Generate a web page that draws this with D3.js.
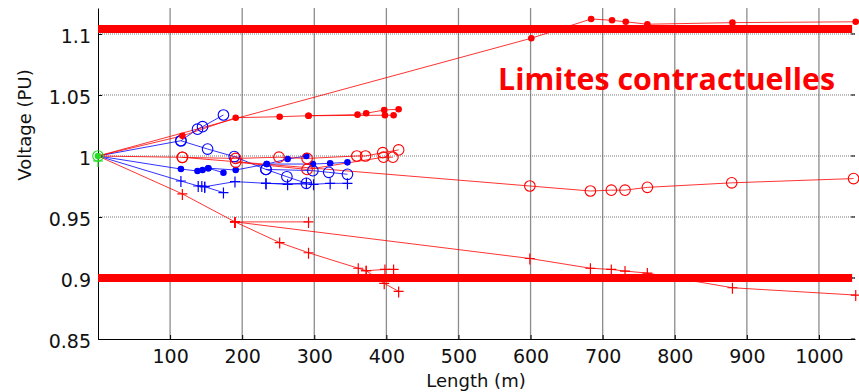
<!DOCTYPE html>
<html>
<head>
<meta charset="utf-8">
<script src="https://cdn.jsdelivr.net/npm/d3@7"></script>
<style>
  body { margin: 0; background: #fff; }
  svg { display: block; }
</style>
</head>
<body>
<svg id="chart" width="859" height="392"></svg>
<script>
// tick values / labels
const xTicks = [100, 200, 300, 400, 500, 600, 700, 800, 900, 1000];
const yTicks = [0.85, 0.9, 0.95, 1, 1.05, 1.1];
const yTickLabels = ["0.85", "0.9", "0.95", "1", "1.05", "1.1"];

// contractual limits (PU)
const limits = [0.9, 1.104];
const limitEnd = 1046;

// red feeder, phase with filled dots  [length m, voltage PU]
const redDotA = [[0, 1], [117, 1.0165], [191, 1.0314], [252, 1.0322], [292, 1.033], [360, 1.0339], [372, 1.035], [397, 1.0377], [417, 1.0383]];
const redDotB = [[292, 1.033], [398, 1.0334], [410, 1.0334]];
const redDotFar = [[0, 1], [601, 1.0965], [684, 1.1123], [713, 1.1112], [732, 1.110], [762, 1.108], [880, 1.1093], [1051, 1.110]];

// red feeder, phase with circles
const redCircA = [[0, 1], [117, 0.9989], [191, 0.998], [251, 0.999], [290, 0.998], [359, 1.0], [371, 1.0], [395, 1.0027], [417, 1.005]];
const redCircB = [[191, 0.995], [290, 0.989], [396, 0.999], [409, 0.999]];
const redCircFar = [[117, 0.9989], [599, 0.9754], [683, 0.9713], [712, 0.972], [731, 0.972], [762, 0.9743], [879, 0.978], [1048, 0.9815]];

// red feeder, phase with plus
const redPlusA = [[0, 1], [117, 0.9689], [190, 0.946], [252, 0.929], [292, 0.9207], [361, 0.908], [372, 0.906], [398, 0.907], [410, 0.907]];
const redPlusB = [[372, 0.906], [397, 0.8956], [417, 0.889]];
const redPlusC = [[190, 0.946], [292, 0.946]];
const redPlusFar = [[190, 0.946], [599, 0.916], [683, 0.908], [712, 0.907], [731, 0.9057], [762, 0.904], [880, 0.892], [1051, 0.886]];

// blue feeder
const bluCircA = [[0, 1], [115, 1.0125], [138, 1.022], [145, 1.024], [174, 1.0336]];
const bluCircB = [[115, 1.0125], [152, 1.0057], [189, 0.9995], [233, 0.989], [262, 0.983], [289, 0.9776]];
const bluCircC = [[233, 0.989], [298, 0.988], [320, 0.9866], [346, 0.985]];

const bluDotA = [[0, 1], [115, 0.9893], [138, 0.9877], [145, 0.9885], [153, 0.99], [174, 0.9863]];
const bluDotB = [[153, 0.99], [191, 0.9885], [234, 0.9934], [263, 0.9975], [289, 1.0]];
const bluDotC = [[234, 0.9934], [298, 0.9934], [322, 0.994], [346, 0.9948]];

const bluPlusA = [[0, 1], [115, 0.9795], [139, 0.9754], [144, 0.9754], [148, 0.9748], [174, 0.970]];
const bluPlusB = [[148, 0.9748], [190, 0.979], [233, 0.9776], [263, 0.9768], [289, 0.978]];
const bluPlusC = [[233, 0.9776], [299, 0.9768], [322, 0.9776], [346, 0.9776]];

const RED = "#ff0000", BLUE = "#0000ff", GREEN = "#22dd22";

const series = [
  { pts: bluCircA, color: BLUE, marker: "o" },
  { pts: bluCircB, color: BLUE, marker: "o" },
  { pts: bluCircC, color: BLUE, marker: "o" },
  { pts: bluDotA, color: BLUE, marker: "." },
  { pts: bluDotB, color: BLUE, marker: "." },
  { pts: bluDotC, color: BLUE, marker: "." },
  { pts: bluPlusA, color: BLUE, marker: "+" },
  { pts: bluPlusB, color: BLUE, marker: "+" },
  { pts: bluPlusC, color: BLUE, marker: "+" },
  { pts: redDotA, color: RED, marker: "." },
  { pts: redDotB, color: RED, marker: "." },
  { pts: redDotFar, color: RED, marker: "." },
  { pts: redCircA, color: RED, marker: "o" },
  { pts: redCircB, color: RED, marker: "o" },
  { pts: redCircFar, color: RED, marker: "o" },
  { pts: redPlusA, color: RED, marker: "+" },
  { pts: redPlusB, color: RED, marker: "+" },
  { pts: redPlusC, color: RED, marker: "+" },
  { pts: redPlusFar, color: RED, marker: "+" }
];

const svg = d3.select("#chart");

const x = d3.scaleLinear().domain([0, 1050]).range([98, 855]);
const y = d3.scaleLinear().domain([0.85, 1.1213]).range([339, 8]);

// grid
svg.append("g").selectAll("line").data(xTicks).join("line")
  .attr("x1", d => x(d)).attr("x2", d => x(d))
  .attr("y1", y.range()[1]).attr("y2", y.range()[0])
  .attr("stroke", "#8c8c8c").attr("stroke-width", 1.3);

svg.append("g").selectAll("line").data(yTicks.slice(1)).join("line")
  .attr("x1", x.range()[0]).attr("x2", x.range()[1])
  .attr("y1", d => y(d)).attr("y2", d => y(d))
  .attr("stroke", "#555").attr("stroke-width", 0.8)
  .attr("stroke-dasharray", "1,1");

// axes (MATLAB style, ticks pointing inward)
const xAxis = svg.append("g")
  .attr("transform", `translate(0,${y(0.85)})`)
  .call(d3.axisBottom(x).tickValues(xTicks).tickFormat(d3.format("d"))
    .tickSizeInner(-4).tickSizeOuter(0).tickPadding(11));
xAxis.select(".domain").attr("stroke", "#000");
xAxis.selectAll("text").attr("font-family", "DejaVu Sans").attr("font-size", 19).attr("fill", "#111");

const yAxis = svg.append("g")
  .attr("transform", `translate(${x(0)},0)`)
  .call(d3.axisLeft(y).tickValues(yTicks).tickFormat((d, i) => yTickLabels[i])
    .tickSizeInner(-4).tickSizeOuter(0).tickPadding(7));
yAxis.select(".domain").attr("stroke", "#000");
yAxis.selectAll("text").attr("font-family", "DejaVu Sans").attr("font-size", 19).attr("fill", "#111").attr("dy", "0.45em");

// right-hand ticks
svg.append("g").selectAll("line").data(yTicks).join("line")
  .attr("x1", x.range()[1] - 4).attr("x2", x.range()[1])
  .attr("y1", d => y(d)).attr("y2", d => y(d))
  .attr("stroke", "#000");

// limit bars
svg.append("g").selectAll("line").data(limits).join("line")
  .attr("x1", x(0)).attr("x2", x(limitEnd))
  .attr("y1", d => y(d)).attr("y2", d => y(d))
  .attr("stroke", RED).attr("stroke-width", 8);

// branch lines
const line = d3.line().x(d => x(d[0])).y(d => y(d[1]));
svg.append("g").selectAll("path").data(series).join("path")
  .attr("d", d => line(d.pts))
  .attr("fill", "none")
  .attr("stroke", d => d.color)
  .attr("stroke-opacity", 0.8)
  .attr("stroke-width", 1);

// markers
function drawMarker(g, px, py, marker, color) {
  if (marker === "o") {
    g.append("circle").attr("cx", px).attr("cy", py).attr("r", 5.3)
      .attr("fill", "none").attr("stroke", color).attr("stroke-width", 1.1);
  } else if (marker === ".") {
    g.append("circle").attr("cx", px).attr("cy", py).attr("r", 3.3)
      .attr("fill", color);
  } else {
    g.append("path")
      .attr("d", `M${px - 5},${py}H${px + 5}M${px},${py - 5}V${py + 6}`)
      .attr("stroke", color).attr("stroke-width", 1.2).attr("fill", "none");
  }
}

const mk = svg.append("g");
series.forEach(s => {
  s.pts.forEach(p => {
    if (p[0] === 0) return;
    drawMarker(mk, x(p[0]), y(p[1]), s.marker, s.color);
  });
});

// source node in green
drawMarker(mk, x(0), y(1), "o", GREEN);
drawMarker(mk, x(0), y(1), ".", GREEN);
drawMarker(mk, x(0), y(1) + 5, "+", GREEN);

// labels
svg.append("text")
  .attr("x", 476).attr("y", 387)
  .attr("text-anchor", "middle")
  .attr("font-family", "DejaVu Sans").attr("font-size", 18).attr("fill", "#111")
  .text("Length (m)");

svg.append("text")
  .attr("transform", "translate(31,125) rotate(-90)")
  .attr("text-anchor", "middle")
  .attr("font-family", "DejaVu Sans").attr("font-size", 18).attr("fill", "#111")
  .text("Voltage (PU)");

svg.append("text")
  .attr("x", 498).attr("y", 90)
  .attr("font-family", "Open Sans").attr("font-weight", "bold").attr("font-size", 31)
  .attr("fill", RED)
  .attr("textLength", 337).attr("lengthAdjust", "spacingAndGlyphs")
  .text("Limites contractuelles");
</script>
</body>
</html>
